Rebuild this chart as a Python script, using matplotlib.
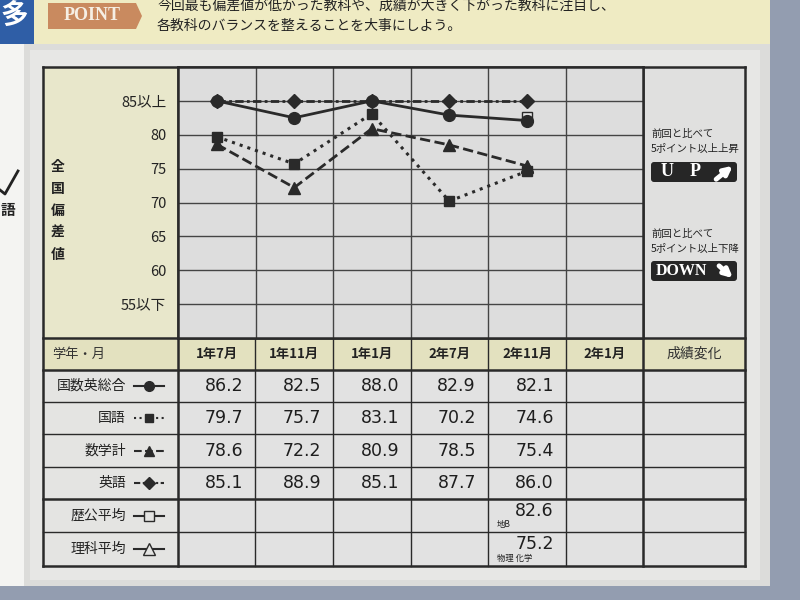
import numpy as np
import matplotlib
matplotlib.use("Agg")
import matplotlib.pyplot as plt
from matplotlib.patches import Rectangle, FancyBboxPatch, Polygon
from matplotlib.lines import Line2D

plt.rcParams['font.family'] = ['Noto Sans CJK JP', 'DejaVu Sans']

# ---------------- data ----------------
months = ["1年7月", "1年11月", "1年1月", "2年7月", "2年11月", "2年1月"]
row_labels = ["国数英総合", "国語", "数学計", "英語", "歴公平均", "理科平均"]
total = [86.2, 82.5, 88.0, 82.9, 82.1]
kokugo = [79.7, 75.7, 83.1, 70.2, 74.6]
sugaku = [78.6, 72.2, 80.9, 78.5, 75.4]
eigo = [85.1, 88.9, 85.1, 87.7, 86.0]
rekiko = [np.nan, np.nan, np.nan, np.nan, 82.6]
rika = [np.nan, np.nan, np.nan, np.nan, 75.2]
y_ticks = [55, 60, 65, 70, 75, 80, 85]
y_ticklabels = ["55以下", "60", "65", "70", "75", "80", "85以上"]
header_text = ["今回最も偏差値が低かった教科や、成績が大きく下がった教科に注目し、",
               "各教科のバランスを整えることを大事にしよう。"]

# ---------------- figure ----------------
fig = plt.figure(figsize=(8, 6), dpi=100)
fig.patch.set_facecolor("#939db0")
bg = fig.add_axes([0, 0, 1, 1])
bg.set_xlim(0, 800)
bg.set_ylim(600, 0)
bg.axis("off")

def rect(x0, y0, x1, y1, fc, ec="none", lw=0, z=1):
    bg.add_patch(Rectangle((x0, y0), x1 - x0, y1 - y0, facecolor=fc,
                           edgecolor=ec, linewidth=lw, zorder=z))

# page background
rect(0, 0, 770, 586, "#dcdcda", z=0)
rect(30, 50, 760, 580, "#e7e7e5", z=0.5)
# left white paper
rect(0, 44, 24, 586, "#f4f4f2", z=0.6)
bg.text(1, 210, "語", fontsize=10.5, ha="left", va="center", color="#222",
        fontweight="bold", zorder=2)
bg.plot([0, 5, 18], [190, 194, 171], color="#222", lw=2, zorder=2)
# top banner
rect(0, 0, 770, 44, "#efebc3", z=1)
rect(0, 0, 34, 44, "#2f5ea6", z=1.2)
bg.text(14, 16, "多", fontsize=20, color="white", ha="center", va="center",
        fontweight="bold", zorder=2)
bg.add_patch(Polygon([[48, 3], [136, 3], [142, 16], [136, 29], [48, 29]],
                     closed=True, facecolor="#c98a5f", edgecolor="none", zorder=2))
bg.text(92, 16, "POINT", fontsize=13, color="#f6efe4", ha="center", va="center",
        family=["Liberation Serif"], fontweight="bold", zorder=3)
bg.text(157, 6, header_text[0], fontsize=10, ha="left", va="center", color="#222", zorder=3)
bg.text(157, 26, header_text[1], fontsize=10, ha="left", va="center", color="#222", zorder=3)

# table geometry
L, R = 43, 745
TOP, CB = 67, 338
col_x = [178, 255, 333, 411, 488, 566, 643]
row_y = [338, 370, 402, 434, 467, 499, 532, 566]

# panels
rect(L, TOP, 178, CB, "#e8e7cb", z=1)
rect(643, TOP, R, CB, "#e0e0df", z=1)
rect(L, 338, R, 370, "#e3e1bf", z=1)
rect(L, 370, 178, 566, "#e4e4e2", z=1)
rect(178, 370, 643, 566, "#e2e2e2", z=1)
rect(643, 370, R, 566, "#e2e2e2", z=1)

# table lines
lc = "#2a2a2a"
for i, y in enumerate(row_y):
    lw = 1.8 if y in (338, 370, 499, 566) else 1.0
    bg.plot([L, R], [y, y], color=lc, lw=lw, zorder=4)
for x in col_x:
    lw = 1.8 if x in (178, 643) else 1.0
    bg.plot([x, x], [338, 566], color=lc, lw=lw, zorder=4)
bg.plot([L, L], [TOP, 566], color=lc, lw=1.8, zorder=4)
bg.plot([R, R], [TOP, 566], color=lc, lw=1.8, zorder=4)
bg.plot([L, R], [TOP, TOP], color=lc, lw=1.8, zorder=4)
bg.plot([643, 643], [TOP, CB], color=lc, lw=1.8, zorder=4)
bg.plot([178, 178], [TOP, CB], color=lc, lw=1.8, zorder=4)

# vertical axis title
for k, ch in enumerate("全国偏差値"):
    bg.text(58, 167 + k * 22, ch, fontsize=10, ha="center", va="center",
            color="#222", fontweight="bold", zorder=3)

# ---------------- chart axes ----------------
ax = fig.add_axes([178 / 800, (600 - CB) / 600, 465 / 800, (CB - TOP) / 600])
ax.set_zorder(3)
ax.set_facecolor("#dddddd")
ax.set_xlim(0, 6)
ax.set_ylim(50, 90)
ax.set_yticks(y_ticks, labels=y_ticklabels)
ax.set_xticks([])
ax.set_xticks([1, 2, 3, 4, 5], minor=True)
ax.tick_params(axis="y", length=0, pad=8.5, labelsize=10.5, labelcolor="#222")
ax.tick_params(axis="x", which="both", length=0)
ax.grid(axis="y", which="major", color="#444", lw=1.0)
ax.grid(axis="x", which="minor", color="#444", lw=1.0)
ax.set_axisbelow(True)
for s in ax.spines.values():
    s.set_color(lc)
    s.set_linewidth(1.8)

xs = np.arange(5) + 0.5
def clip(v):
    return np.clip(np.array(v, dtype=float), 55, 85)

c = "#2a2a2a"
ax.plot(xs, clip(eigo), color=c, lw=2, ls=(0, (3, 1.2, 1, 1.2)), marker="D", ms=7, zorder=4)
ax.plot(xs, clip(total), color=c, lw=2, ls="-", marker="o", ms=8.5, zorder=5)
ax.plot(xs, clip(kokugo), color=c, lw=2.2, ls=":", marker="s", ms=7.5, zorder=4)
ax.plot(xs, clip(sugaku), color=c, lw=2, ls="--", marker="^", ms=8.5, zorder=4)
ax.plot(xs, clip(rekiko), color=c, lw=1, ls="none", marker="s", ms=7.5,
        mfc="#e8e8e8", mew=1, zorder=3)
ax.plot(xs, clip(rika), color=c, lw=1, ls="none", marker="^", ms=8.5,
        mfc="#e8e8e8", mew=1, zorder=3)

# ---------------- right panel ----------------
bg.text(651, 134, "前回と比べて", fontsize=7.5, ha="left", va="center", color="#222", zorder=3)
bg.text(651, 149, "5ポイント以上上昇", fontsize=7.5, ha="left", va="center", color="#222", zorder=3)
bg.text(651, 234, "前回と比べて", fontsize=7.5, ha="left", va="center", color="#222", zorder=3)
bg.text(651, 249, "5ポイント以上下降", fontsize=7.5, ha="left", va="center", color="#222", zorder=3)

def badge(y0, y1):
    bg.add_patch(FancyBboxPatch((651, y0), 86, y1 - y0,
                                boxstyle="round,pad=0,rounding_size=3",
                                facecolor="#262626", edgecolor="none", zorder=3))
badge(162, 182)
bg.text(667, 172, "U", fontsize=13, color="white", ha="center", va="center",
        family=["Liberation Serif"], fontweight="bold", zorder=4)
bg.text(695, 172, "P", fontsize=13, color="white", ha="center", va="center",
        family=["Liberation Serif"], fontweight="bold", zorder=4)
bg.annotate("", xy=(735, 164), xytext=(714, 181),
            arrowprops=dict(arrowstyle="-|>", color="white", lw=3.5, mutation_scale=12),
            zorder=5)
badge(261, 281)
bg.text(681, 271, "DOWN", fontsize=11.5, color="white", ha="center", va="center",
        family=["Liberation Serif"], fontweight="bold", zorder=4)
bg.annotate("", xy=(735, 280), xytext=(717, 264),
            arrowprops=dict(arrowstyle="-|>", color="white", lw=3.5, mutation_scale=12),
            zorder=5)

# ---------------- table text ----------------
bg.text(52, 354, "学年・月", fontsize=9.5, ha="left", va="center", color="#333", zorder=5)
for i, m in enumerate(months):
    cx = (col_x[i] + col_x[i + 1]) / 2
    bg.text(cx, 354, m, fontsize=9.5, ha="center", va="center", color="#222",
            fontweight="bold", zorder=5)
bg.text((643 + R) / 2, 354, "成績変化", fontsize=10, ha="center", va="center",
        color="#333", zorder=5)

styles = [dict(ls="-", marker="o", mfc=c, ms=7),
          dict(ls=":", marker="s", mfc=c, ms=6),
          dict(ls="--", marker="^", mfc=c, ms=7),
          dict(ls=(0, (3, 1.2, 1, 1.2)), marker="D", mfc=c, ms=6),
          dict(ls="-", marker="s", mfc="#e4e4e2", ms=7),
          dict(ls="-", marker="^", mfc="#e4e4e2", ms=8)]
for r, lab in enumerate(row_labels):
    cy = (row_y[r + 1] + row_y[r + 2]) / 2
    bg.text(126, cy, lab, fontsize=10, ha="right", va="center", color="#222", zorder=5)
    st = styles[r]
    bg.add_line(Line2D([134, 164], [cy, cy], color=c, lw=1.5, ls=st["ls"], zorder=5))
    bg.add_line(Line2D([149], [cy], color=c, marker=st["marker"], ms=st["ms"],
                       mfc=st["mfc"], mew=1, ls="none", zorder=6))

series = [total, kokugo, sugaku, eigo, rekiko, rika]
for r, vals in enumerate(series):
    cy = (row_y[r + 1] + row_y[r + 2]) / 2
    if r >= 4:
        cy -= 5
    for i, v in enumerate(vals):
        if np.isnan(v):
            continue
        bg.text(col_x[i + 1] - 12, cy, f"{v:.1f}", fontsize=12.5, ha="right",
                va="center", color="#1e1e1e", family=["DejaVu Sans"],
                zorder=5)
bg.text(497, 525, "地B", fontsize=6, ha="left", va="center", color="#222", zorder=5)
bg.text(497, 558, "物理 化学", fontsize=6, ha="left", va="center", color="#222", zorder=5)

fig.savefig("out.png", dpi=100)
